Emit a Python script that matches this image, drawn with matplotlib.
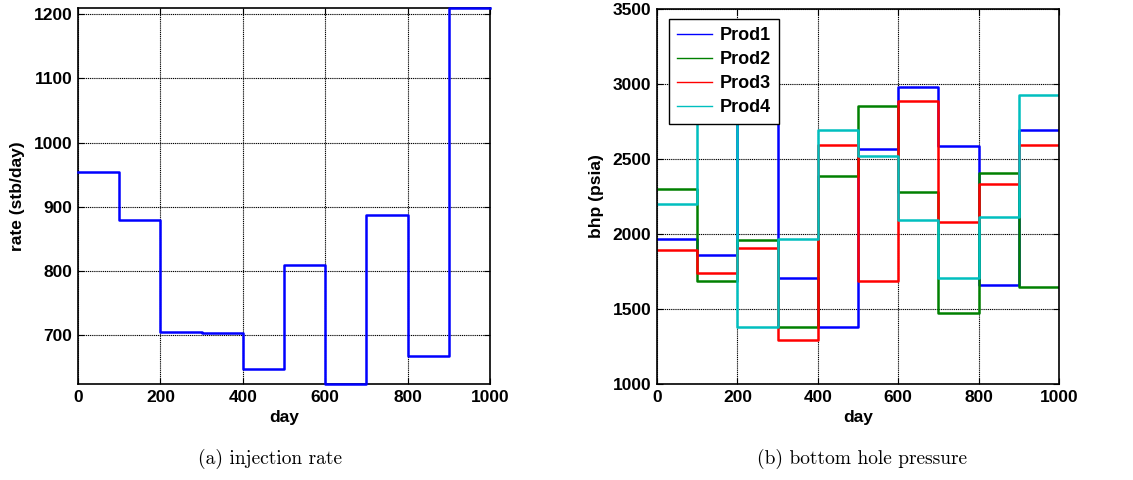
import matplotlib
matplotlib.use("Agg")
import matplotlib.pyplot as plt
import numpy as np

days = [0, 100, 200, 300, 400, 500, 600, 700, 800, 900, 1000]
inj_rate = [954, 879, 704, 702, 647, 809, 623, 887, 667, 1210]

prod1 = [1970, 1861, 3250, 1710, 1380, 2570, 2980, 2585, 1657, 2692]
prod2 = [2299, 1684, 1957, 1380, 2385, 2852, 2283, 1473, 2408, 1648]
prod3 = [1895, 1739, 1910, 1295, 2592, 1686, 2885, 2077, 2332, 2592]
prod4 = [2201, 3100, 1380, 1964, 2694, 2523, 2095, 1710, 2115, 2927]
prod_names = ["Prod1", "Prod2", "Prod3", "Prod4"]
prod_colors = ["#0000ff", "#008000", "#ff0000", "#00bfbf"]

xticks = [0, 200, 400, 600, 800, 1000]
yticks_left = [700, 800, 900, 1000, 1100, 1200]
yticks_right = [1000, 1500, 2000, 2500, 3000, 3500]

plt.rcParams['font.family'] = ['Liberation Sans', 'DejaVu Sans']
plt.rcParams['font.weight'] = 'bold'

W, H = 1133, 480
fig = plt.figure(figsize=(W / 100, H / 100), dpi=100)

FS = 12.5

def px_axes(x0, y0, x1, y1):
    return fig.add_axes([x0 / W, 1 - y1 / H, (x1 - x0) / W, (y1 - y0) / H])

def style(ax):
    ax.grid(True, color='black', linestyle=(0, (1, 0.7)), linewidth=0.8)
    ax.set_axisbelow(True)
    ax.tick_params(direction='in', length=4, width=0.8, top=True, right=True,
                   labelsize=FS, pad=4)
    for lab in ax.get_xticklabels() + ax.get_yticklabels():
        lab.set_fontweight('bold')
    for s in ax.spines.values():
        s.set_linewidth(1.2)

def ext(v):
    return list(v) + [v[-1]]

ax1 = px_axes(78, 8, 490, 384)
ax1.plot(days, ext(inj_rate), drawstyle='steps-post', color='#0000ff', lw=1.8,
         clip_on=False, zorder=3)
ax1.set_xlim(0, 1000)
ax1.set_ylim(623, 1210)
ax1.set_xticks(xticks)
ax1.set_yticks(yticks_left)
style(ax1)
ax1.set_xlabel('day', fontsize=FS, fontweight='bold', labelpad=4)
ax1.set_ylabel('rate (stb/day)', fontsize=FS, fontweight='bold', labelpad=6)

ax2 = px_axes(657, 9, 1059, 384)
for vals, name, c in zip([prod1, prod2, prod3, prod4], prod_names, prod_colors):
    ax2.plot(days, ext(vals), drawstyle='steps-post', color=c, lw=1.8, label=name)
ax2.set_xlim(0, 1000)
ax2.set_ylim(1000, 3500)
ax2.set_xticks(xticks)
ax2.set_yticks(yticks_right)
style(ax2)
ax2.set_xlabel('day', fontsize=FS, fontweight='bold', labelpad=4)
ax2.set_ylabel('bhp (psia)', fontsize=FS, fontweight='bold', labelpad=6)
leg = ax2.legend(loc='upper left', bbox_to_anchor=(0.03, 0.973), fancybox=False,
                 framealpha=1, edgecolor='black', prop={'weight': 'bold', 'size': 13},
                 handlelength=1.95, labelspacing=0.38, borderpad=0.45, handletextpad=0.4,
                 borderaxespad=0)
leg.get_frame().set_linewidth(1.0)
for l in leg.get_lines():
    l.set_linewidth(1.0)

fig.text(270 / W, 1 - 459 / H, '(a) injection rate', fontfamily='cmr10',
         fontweight='normal', fontsize=14, ha='center', va='center')
fig.text(862 / W, 1 - 459 / H, '(b) bottom hole pressure', fontfamily='cmr10',
         fontweight='normal', fontsize=14, ha='center', va='center')

fig.savefig('out.png', dpi=100)
